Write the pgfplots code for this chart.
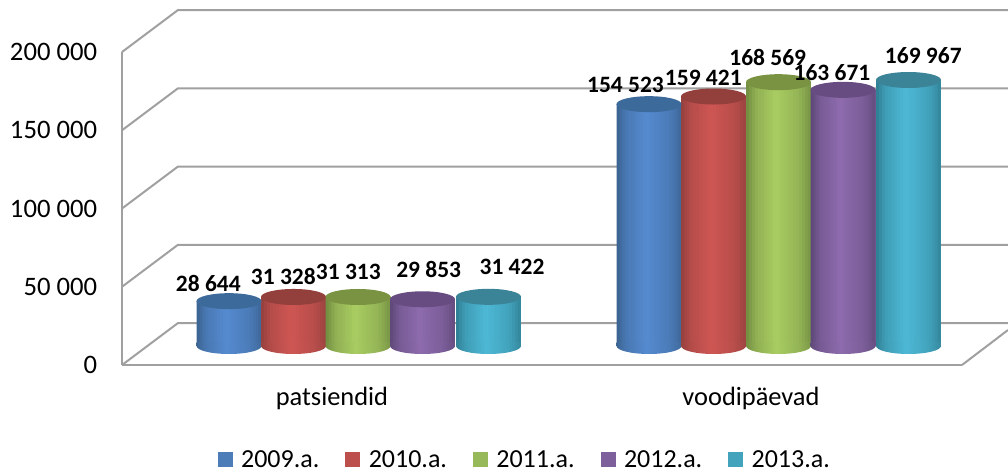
\documentclass[border=0pt]{standalone}
\usepackage{pgfplots}
\usepackage{pgfplotstable}
\usepackage{fontspec}
\setmainfont{Carlito}
\pgfplotsset{compat=1.18}
\definecolor{wallc}{HTML}{A0A0A0}
\newcommand{\defcyl}[5]{%
  \definecolor{edge#1}{HTML}{#2}%
  \definecolor{mid#1}{HTML}{#3}%
  \definecolor{lite#1}{HTML}{#4}%
  \definecolor{capc#1}{HTML}{#5}%
  \colorlet{sa#1}{lite#1!8!edge#1}%
  \colorlet{sb#1}{lite#1!55!edge#1}%
  \colorlet{sc#1}{lite#1!65!edge#1}%
  \colorlet{sd#1}{lite#1!21!edge#1}%
  \pgfdeclarehorizontalshading{body#1}{100bp}{color(0bp)=(sa#1); color(25bp)=(sa#1); color(32.5bp)=(sb#1); color(48bp)=(lite#1); color(65bp)=(sc#1); color(75bp)=(sd#1); color(100bp)=(sd#1)}%
  \pgfdeclareplotmark{cap#1}{\fill[capc#1,draw=none,rotate=4.5] (0pt,0pt) ellipse[x radius=24.4pt,y radius=6pt];}%
  \pgfdeclareplotmark{base#1}{\shade[shading=body#1,draw=none,rotate=4.5] (-24.3pt,3pt) -- (-24.3pt,0pt) arc[start angle=180,end angle=360,x radius=24.3pt,y radius=6pt] -- (24.3pt,3pt) -- cycle;}%
}
\defcyl{1}{3A628F}{4A78AE}{558AD0}{3C6A9A}
\defcyl{2}{93403D}{BC4F4C}{CE5653}{933F3C}
\defcyl{3}{6F8B3F}{97B95A}{A9CC62}{7A9343}
\defcyl{4}{5D4777}{7D5F9C}{8D6BAD}{664C80}
\defcyl{5}{2F7D91}{44A3BC}{4DB8D5}{3B8397}
\pgfplotstableread{
x v
229 28644
649 154523
}\serA
\pgfplotstableread{
x v
293.5 31328
713.5 159421
}\serB
\pgfplotstableread{
x v
358 31313
778.5 168569
}\serC
\pgfplotstableread{
x v
422.5 29853
843 163671
}\serD
\pgfplotstableread{
x v
488.5 31422
908.5 169967
}\serE
\pgfplotstableread{
x v dx dy
229 28644 -20.7 17.9
293.5 31328 -10.2 20.3
358 31313 -9.7 25.3
422.5 29853 6.2 30
488.5 31422 23.5 29.5
649 154523 -23.5 19.2
713.5 159421 -10.2 18.2
778.5 168569 -10.8 24.5
843 163671 -11 17.6
908.5 169967 14.8 24.3
}\labs
\newcommand{\strip}[4]{%
  \addplot[forget plot,ybar,bar width={48.6pt-#3*2.209pt},bar shift={#3*1.1045pt},draw=none,fill=lite#1!#4!edge#1] table[x=x,y=v] {#2};
}
\newcommand{\cyl}[2]{%
  \addplot[forget plot,only marks,draw=none,mark=base#1] table[x=x,y expr=0] {#2};
  \strip{#1}{#2}{0}{8}\strip{#1}{#2}{1}{25}\strip{#1}{#2}{2}{42}\strip{#1}{#2}{3}{57}
  \strip{#1}{#2}{4}{65}\strip{#1}{#2}{5}{70}\strip{#1}{#2}{6}{77}\strip{#1}{#2}{7}{84}
  \strip{#1}{#2}{8}{90}\strip{#1}{#2}{9}{97}\strip{#1}{#2}{10}{99}\strip{#1}{#2}{11}{94}
  \strip{#1}{#2}{12}{89}\strip{#1}{#2}{13}{84}\strip{#1}{#2}{14}{79}\strip{#1}{#2}{15}{75}
  \strip{#1}{#2}{16}{70}\strip{#1}{#2}{17}{65}\strip{#1}{#2}{18}{56}\strip{#1}{#2}{19}{45}
  \strip{#1}{#2}{20}{33}\strip{#1}{#2}{21}{21}
  \addplot[forget plot,only marks,draw=none,mark=cap#1] table[x=x,y=v] {#2};
}
\begin{document}
\begin{tikzpicture}[x=1pt,y=1pt]
\path[use as bounding box] (0,0) rectangle (756pt,351.75pt);
\begin{axis}[
  at={(91.5pt,78pt)},anchor=south west,
  scale only axis,width=630pt,height=234.75pt,
  xmin=122,xmax=962,ymin=0,ymax=200000,
  clip=false,scaled ticks=false,
  axis x line=bottom,axis y line=left,
  axis line style={-,color=wallc,line width=1.5pt},
  tick style={draw=none},
  ytick={0,50000,100000,150000,200000},
  xtick={332,751},
  xticklabels={patsiendid,voodipäevad},
  tick label style={font=\fontsize{20pt}{22pt}\selectfont},
  xticklabel style={font=\fontsize{19.8pt}{22pt}\selectfont,yshift=-11pt},
  yticklabel style={xshift=-13pt},
  /pgf/number format/.cd,fixed,precision=0,assume math mode=true,1000 sep={\space},
  /pgfplots/.cd,
  legend columns=5,
  legend style={draw=none,fill=none,at={(0.48,-0.303)},anchor=center,inner sep=0pt,
    font=\fontsize{19.5pt}{22pt}\selectfont,
    /tikz/every even column/.append style={column sep=17.5pt}},
  legend cell align=left,
]
\addplot[forget plot,wallc,line width=1.5pt] coordinates {(122,0)(178,26837)(1008,26837)};
\addplot[forget plot,wallc,line width=1.5pt] coordinates {(122,50000)(178,76837)(1008,76837)};
\addplot[forget plot,wallc,line width=1.5pt] coordinates {(122,100000)(178,126837)(1008,126837)};
\addplot[forget plot,wallc,line width=1.5pt] coordinates {(122,150000)(178,176837)(1008,176837)};
\addplot[forget plot,wallc,line width=1.5pt] coordinates {(122,200000)(178,226837)(1008,226837)};
\addplot[forget plot,wallc,line width=1.5pt] coordinates {(962,0)(1008,22364)};
\pgfplotsset{legend image code/.code={\fill[draw=none,#1] (0pt,-5.6pt) rectangle (11.25pt,5.6pt);\path[draw=none,fill=none] (0pt,0pt) -- (15.5pt,0pt);}}
\addlegendimage{fill=mid1!70!lite1}\addlegendentry{2009.a.}
\addlegendimage{fill=mid2}\addlegendentry{2010.a.}
\addlegendimage{fill=mid3}\addlegendentry{2011.a.}
\addlegendimage{fill=mid4}\addlegendentry{2012.a.}
\addlegendimage{fill=mid5}\addlegendentry{2013.a.}
\end{axis}
\begin{axis}[
  at={(91.5pt,78pt)},anchor=south west,
  scale only axis,width=630pt,height=234.75pt,
  xmin=122,xmax=962,ymin=-12141,ymax=187859,
  clip=false,hide axis,scaled ticks=false,
  /pgf/number format/.cd,fixed,precision=0,assume math mode=true,1000 sep={\space},
  /pgfplots/.cd,
]
\cyl{1}{\serA}
\cyl{2}{\serB}
\cyl{3}{\serC}
\cyl{4}{\serD}
\cyl{5}{\serE}
\addplot[forget plot,only marks,mark=none,
  visualization depends on={\thisrow{dx}*0.75\as\dxv},
  visualization depends on={\thisrow{dy}*0.75\as\dyv},
  nodes near coords={\pgfmathprintnumber[fixed,precision=0,assume math mode=true,1000 sep={\space}]{\pgfplotspointmeta}},
  nodes near coords style={anchor=center,xshift=\dxv pt,yshift=\dyv pt,inner sep=0pt,
    font=\fontsize{17.6pt}{20pt}\selectfont\bfseries},
] table[x=x,y=v] {\labs};
\end{axis}
\end{tikzpicture}
\end{document}
